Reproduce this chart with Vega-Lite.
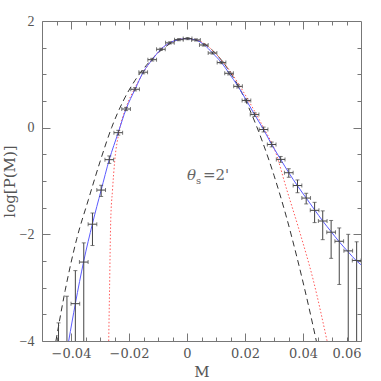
{
  "$schema": "https://vega.github.io/schema/vega-lite/v6.json",
  "width": 319,
  "height": 320,
  "autosize": "none",
  "padding": {"left": 42, "top": 21, "right": 20, "bottom": 40},
  "background": "white",
  "config": {
    "view": {"stroke": "#777", "strokeWidth": 1},
    "font": "DejaVu Serif",
    "axis": {"labelFont": "DejaVu Serif", "titleFont": "DejaVu Serif", "tickColor": "#777", "domain": false, "grid": false, "labelColor": "#555", "titleColor": "#555", "titleFontWeight": "normal"}
  },
  "datasets": {
    "pts": [
      {"M": -0.0443, "v": -4.6, "lo": -5.0, "hi": -3.66, "mlo": -0.0458, "mhi": -0.0428},
      {"M": -0.0414, "v": -4.3, "lo": -5.0, "hi": -3.16, "mlo": -0.0429, "mhi": -0.0399},
      {"M": -0.0385, "v": -3.30, "lo": -5.0, "hi": -2.68, "mlo": -0.0400, "mhi": -0.0370},
      {"M": -0.0356, "v": -2.52, "lo": -5.0, "hi": -2.16, "mlo": -0.0371, "mhi": -0.0341},
      {"M": -0.0326, "v": -1.81, "lo": -2.21, "hi": -1.60, "mlo": -0.0341, "mhi": -0.0311},
      {"M": -0.0296, "v": -1.17, "lo": -1.29, "hi": -1.08, "mlo": -0.0311, "mhi": -0.0281},
      {"M": -0.0268, "v": -0.60, "lo": -0.67, "hi": -0.53, "mlo": -0.0283, "mhi": -0.0253},
      {"M": -0.0237, "v": -0.094, "lo": -0.14, "hi": -0.05, "mlo": -0.0252, "mhi": -0.0222},
      {"M": -0.0210, "v": 0.35, "lo": 0.32, "hi": 0.38, "mlo": -0.0225, "mhi": -0.0195},
      {"M": -0.0179, "v": 0.72, "lo": 0.69, "hi": 0.75, "mlo": -0.0194, "mhi": -0.0164},
      {"M": -0.0151, "v": 1.04, "lo": 1.01, "hi": 1.07, "mlo": -0.0166, "mhi": -0.0136},
      {"M": -0.0120, "v": 1.275, "lo": 1.25, "hi": 1.30, "mlo": -0.0135, "mhi": -0.0105},
      {"M": -0.0090, "v": 1.47, "lo": 1.45, "hi": 1.49, "mlo": -0.0105, "mhi": -0.0075},
      {"M": -0.0059, "v": 1.59, "lo": 1.57, "hi": 1.61, "mlo": -0.0074, "mhi": -0.0044},
      {"M": -0.0028, "v": 1.65, "lo": 1.63, "hi": 1.67, "mlo": -0.0043, "mhi": -0.0013},
      {"M": 0.0002, "v": 1.67, "lo": 1.65, "hi": 1.69, "mlo": -0.0013, "mhi": 0.0017},
      {"M": 0.0031, "v": 1.645, "lo": 1.625, "hi": 1.665, "mlo": 0.0016, "mhi": 0.0046},
      {"M": 0.0058, "v": 1.55, "lo": 1.53, "hi": 1.57, "mlo": 0.0043, "mhi": 0.0073},
      {"M": 0.0088, "v": 1.40, "lo": 1.38, "hi": 1.42, "mlo": 0.0073, "mhi": 0.0103},
      {"M": 0.0119, "v": 1.22, "lo": 1.20, "hi": 1.24, "mlo": 0.0104, "mhi": 0.0134},
      {"M": 0.0145, "v": 1.02, "lo": 0.99, "hi": 1.05, "mlo": 0.0130, "mhi": 0.0160},
      {"M": 0.0176, "v": 0.775, "lo": 0.745, "hi": 0.805, "mlo": 0.0161, "mhi": 0.0191},
      {"M": 0.0205, "v": 0.51, "lo": 0.48, "hi": 0.54, "mlo": 0.0190, "mhi": 0.0220},
      {"M": 0.0233, "v": 0.245, "lo": 0.21, "hi": 0.28, "mlo": 0.0218, "mhi": 0.0248},
      {"M": 0.0264, "v": -0.035, "lo": -0.08, "hi": 0.01, "mlo": 0.0249, "mhi": 0.0279},
      {"M": 0.0292, "v": -0.315, "lo": -0.36, "hi": -0.27, "mlo": 0.0277, "mhi": 0.0307},
      {"M": 0.0323, "v": -0.595, "lo": -0.65, "hi": -0.54, "mlo": 0.0308, "mhi": 0.0338},
      {"M": 0.0351, "v": -0.845, "lo": -0.93, "hi": -0.77, "mlo": 0.0336, "mhi": 0.0366},
      {"M": 0.0381, "v": -1.085, "lo": -1.22, "hi": -0.98, "mlo": 0.0366, "mhi": 0.0396},
      {"M": 0.0411, "v": -1.32, "lo": -1.43, "hi": -1.23, "mlo": 0.0396, "mhi": 0.0426},
      {"M": 0.0440, "v": -1.55, "lo": -1.78, "hi": -1.40, "mlo": 0.0425, "mhi": 0.0455},
      {"M": 0.0468, "v": -1.75, "lo": -2.10, "hi": -1.56, "mlo": 0.0453, "mhi": 0.0483},
      {"M": 0.0497, "v": -1.96, "lo": -2.45, "hi": -1.74, "mlo": 0.0482, "mhi": 0.0512},
      {"M": 0.0525, "v": -2.13, "lo": -2.94, "hi": -1.88, "mlo": 0.0510, "mhi": 0.0540},
      {"M": 0.0556, "v": -2.31, "lo": -5.0, "hi": -2.00, "mlo": 0.0541, "mhi": 0.0571},
      {"M": 0.0585, "v": -2.49, "lo": -5.0, "hi": -2.14, "mlo": 0.0570, "mhi": 0.0600}
    ],
    "fit": [
      {"M": -0.0408, "v": -4.0}, {"M": -0.0385, "v": -3.3}, {"M": -0.0356, "v": -2.5}, {"M": -0.0326, "v": -1.8},
      {"M": -0.0296, "v": -1.17}, {"M": -0.0268, "v": -0.6}, {"M": -0.0237, "v": -0.09}, {"M": -0.021, "v": 0.35},
      {"M": -0.0179, "v": 0.72}, {"M": -0.0151, "v": 1.04}, {"M": -0.012, "v": 1.275}, {"M": -0.009, "v": 1.47},
      {"M": -0.006, "v": 1.59}, {"M": -0.003, "v": 1.65}, {"M": 0.0, "v": 1.67}, {"M": 0.003, "v": 1.645},
      {"M": 0.006, "v": 1.55}, {"M": 0.0088, "v": 1.40}, {"M": 0.0119, "v": 1.22}, {"M": 0.0145, "v": 1.02},
      {"M": 0.0176, "v": 0.775}, {"M": 0.0205, "v": 0.51}, {"M": 0.0233, "v": 0.245}, {"M": 0.0264, "v": -0.035},
      {"M": 0.0292, "v": -0.315}, {"M": 0.0323, "v": -0.595}, {"M": 0.0351, "v": -0.845}, {"M": 0.0381, "v": -1.09},
      {"M": 0.0411, "v": -1.32}, {"M": 0.044, "v": -1.54}, {"M": 0.0468, "v": -1.75}, {"M": 0.0497, "v": -1.95},
      {"M": 0.0525, "v": -2.14}, {"M": 0.0556, "v": -2.33}, {"M": 0.0585, "v": -2.5}, {"M": 0.06, "v": -2.57}
    ],
    "gauss": [
      {"M": -0.0452, "v": -4.0}, {"M": -0.042, "v": -3.05}, {"M": -0.038, "v": -2.08}, {"M": -0.034, "v": -1.35},
      {"M": -0.030, "v": -0.64}, {"M": -0.026, "v": 0.0}, {"M": -0.022, "v": 0.5}, {"M": -0.018, "v": 0.88},
      {"M": -0.014, "v": 1.17}, {"M": -0.010, "v": 1.40}, {"M": -0.006, "v": 1.57}, {"M": -0.003, "v": 1.65},
      {"M": 0.0, "v": 1.67}, {"M": 0.003, "v": 1.645}, {"M": 0.006, "v": 1.57}, {"M": 0.010, "v": 1.385},
      {"M": 0.014, "v": 1.11}, {"M": 0.018, "v": 0.75}, {"M": 0.022, "v": 0.29}, {"M": 0.026, "v": -0.26},
      {"M": 0.030, "v": -0.895}, {"M": 0.034, "v": -1.62}, {"M": 0.038, "v": -2.45}, {"M": 0.042, "v": -3.36},
      {"M": 0.0446, "v": -4.0}
    ],
    "other": [
      {"M": -0.0270, "v": -4.0}, {"M": -0.0267, "v": -3.0}, {"M": -0.0263, "v": -1.74}, {"M": -0.0257, "v": -1.18},
      {"M": -0.0249, "v": -0.61}, {"M": -0.0235, "v": -0.1}, {"M": -0.021, "v": 0.38}, {"M": -0.018, "v": 0.74},
      {"M": -0.015, "v": 1.04}, {"M": -0.012, "v": 1.28}, {"M": -0.009, "v": 1.47}, {"M": -0.006, "v": 1.59},
      {"M": -0.003, "v": 1.65}, {"M": 0.0, "v": 1.67}, {"M": 0.003, "v": 1.65}, {"M": 0.006, "v": 1.575},
      {"M": 0.009, "v": 1.44}, {"M": 0.012, "v": 1.26}, {"M": 0.015, "v": 1.05}, {"M": 0.018, "v": 0.8},
      {"M": 0.021, "v": 0.53}, {"M": 0.024, "v": 0.24}, {"M": 0.027, "v": -0.06}, {"M": 0.030, "v": -0.38},
      {"M": 0.0345, "v": -1.18}, {"M": 0.039, "v": -1.98}, {"M": 0.0435, "v": -2.85}, {"M": 0.0483, "v": -4.0}
    ],
    "label": [
      {"M": 0.0, "v": -0.99, "t": "θ", "s": "s", "e": "=2'"}
    ]
  },
  "resolve": {"axis": {"x": "independent", "y": "independent"}},
  "layer": [
    {
      "data": {"name": "gauss"},
      "mark": {"type": "line", "color": "#333", "strokeWidth": 1, "strokeDash": [6, 4], "interpolate": "monotone", "clip": true},
      "encoding": {
        "x": {"field": "M", "type": "quantitative", "scale": {"domain": [-0.05, 0.06], "nice": false, "zero": false}, "axis": null},
        "y": {"field": "v", "type": "quantitative", "scale": {"domain": [-4, 2], "nice": false, "zero": false}, "axis": null}
      }
    },
    {
      "data": {"name": "other"},
      "mark": {"type": "line", "color": "#ff5a5a", "strokeWidth": 1, "strokeDash": [1.5, 2], "interpolate": "monotone", "clip": true},
      "encoding": {
        "x": {"field": "M", "type": "quantitative", "axis": null},
        "y": {"field": "v", "type": "quantitative", "axis": null}
      }
    },
    {
      "data": {"name": "fit"},
      "mark": {"type": "line", "color": "#5b5bff", "strokeWidth": 1, "interpolate": "monotone", "clip": true},
      "encoding": {
        "x": {"field": "M", "type": "quantitative", "axis": null},
        "y": {"field": "v", "type": "quantitative", "axis": null}
      }
    },
    {
      "data": {"name": "pts"},
      "mark": {"type": "rule", "color": "#444", "strokeWidth": 1, "clip": true},
      "encoding": {
        "x": {"field": "M", "type": "quantitative", "axis": null},
        "y": {"field": "lo", "type": "quantitative", "axis": null},
        "y2": {"field": "hi"}
      }
    },
    {
      "data": {"name": "pts"},
      "mark": {"type": "rule", "color": "#444", "strokeWidth": 1, "clip": true},
      "encoding": {
        "x": {"field": "mlo", "type": "quantitative", "axis": null},
        "x2": {"field": "mhi"},
        "y": {"field": "v", "type": "quantitative", "axis": null}
      }
    },
    {
      "data": {"name": "pts"},
      "transform": [{"fold": ["lo", "hi"], "as": ["k", "yy"]}],
      "mark": {"type": "tick", "color": "#444", "orient": "horizontal", "size": 4, "thickness": 1, "clip": true},
      "encoding": {
        "x": {"field": "M", "type": "quantitative", "axis": null},
        "y": {"field": "yy", "type": "quantitative", "axis": null}
      }
    },
    {
      "data": {"name": "pts"},
      "transform": [{"fold": ["mlo", "mhi"], "as": ["k", "xx"]}],
      "mark": {"type": "tick", "color": "#444", "orient": "vertical", "size": 4, "thickness": 1, "clip": true},
      "encoding": {
        "x": {"field": "xx", "type": "quantitative", "axis": null},
        "y": {"field": "v", "type": "quantitative", "axis": null}
      }
    },
    {
      "data": {"name": "label"},
      "mark": {"type": "text", "font": "DejaVu Serif", "fontStyle": "italic", "fontSize": 15, "color": "#666", "align": "left", "baseline": "alphabetic"},
      "encoding": {
        "x": {"field": "M", "type": "quantitative", "axis": null},
        "y": {"field": "v", "type": "quantitative", "axis": null},
        "text": {"field": "t"}
      }
    },
    {
      "data": {"name": "label"},
      "mark": {"type": "text", "font": "DejaVu Serif", "fontSize": 10, "color": "#666", "align": "left", "baseline": "alphabetic", "dx": 9, "dy": 4},
      "encoding": {
        "x": {"field": "M", "type": "quantitative", "axis": null},
        "y": {"field": "v", "type": "quantitative", "axis": null},
        "text": {"field": "s"}
      }
    },
    {
      "data": {"name": "label"},
      "mark": {"type": "text", "font": "DejaVu Serif", "fontSize": 15, "color": "#666", "align": "left", "baseline": "alphabetic", "dx": 16},
      "encoding": {
        "x": {"field": "M", "type": "quantitative", "axis": null},
        "y": {"field": "v", "type": "quantitative", "axis": null},
        "text": {"field": "e"}
      }
    },
    {
      "data": {"name": "pts"},
      "mark": {"type": "point", "opacity": 0},
      "encoding": {
        "x": {"field": "M", "type": "quantitative", "axis": {"orient": "bottom", "values": [-0.04, -0.02, 0, 0.02, 0.04, 0.06], "ticks": false, "labelPadding": 6, "labelFontSize": 13, "labelExpr": "datum.value == 0 ? '0' : format(datum.value, '.2f')", "title": "M", "titleFontSize": 15, "titlePadding": 4}},
        "y": {"field": "v", "type": "quantitative", "axis": {"orient": "left", "values": [-4, -2, 0, 2], "ticks": false, "labelPadding": 8, "labelFont": "Liberation Serif", "labelFontSize": 14, "format": "d", "title": "log[P(M)]", "titleFontSize": 15, "titlePadding": 2}}
      }
    },
    {
      "data": {"name": "pts"},
      "mark": {"type": "point", "opacity": 0},
      "encoding": {
        "x": {"field": "M", "type": "quantitative", "axis": {"orient": "bottom", "values": [-0.04, -0.02, 0, 0.02, 0.04, 0.06], "tickSize": -8, "labels": false, "title": null}},
        "y": {"field": "v", "type": "quantitative", "axis": {"orient": "left", "values": [-4, -2, 0, 2], "tickSize": -8, "labels": false, "title": null}}
      }
    },
    {
      "data": {"name": "pts"},
      "mark": {"type": "point", "opacity": 0},
      "encoding": {
        "x": {"field": "M", "type": "quantitative", "axis": {"orient": "bottom", "values": [-0.045, -0.035, -0.03, -0.025, -0.015, -0.01, -0.005, 0.005, 0.01, 0.015, 0.025, 0.03, 0.035, 0.045, 0.05, 0.055], "tickSize": -4, "labels": false, "title": null}},
        "y": {"field": "v", "type": "quantitative", "axis": {"orient": "left", "values": [-3.5, -3, -2.5, -1.5, -1, -0.5, 0.5, 1, 1.5], "tickSize": -4, "labels": false, "title": null}}
      }
    },
    {
      "data": {"name": "pts"},
      "mark": {"type": "point", "opacity": 0},
      "encoding": {
        "x": {"field": "M", "type": "quantitative", "axis": {"orient": "top", "values": [-0.04, -0.02, 0, 0.02, 0.04], "tickSize": -8, "labels": false, "title": null}},
        "y": {"field": "v", "type": "quantitative", "axis": {"orient": "right", "values": [-2, 0], "tickSize": -8, "labels": false, "title": null}}
      }
    },
    {
      "data": {"name": "pts"},
      "mark": {"type": "point", "opacity": 0},
      "encoding": {
        "x": {"field": "M", "type": "quantitative", "axis": {"orient": "top", "values": [-0.045, -0.035, -0.03, -0.025, -0.015, -0.01, -0.005, 0.005, 0.01, 0.015, 0.025, 0.03, 0.035, 0.045, 0.05, 0.055], "tickSize": -4, "labels": false, "title": null}},
        "y": {"field": "v", "type": "quantitative", "axis": {"orient": "right", "values": [-3.5, -3, -2.5, -1.5, -1, -0.5, 0.5, 1, 1.5], "tickSize": -4, "labels": false, "title": null}}
      }
    }
  ]
}
